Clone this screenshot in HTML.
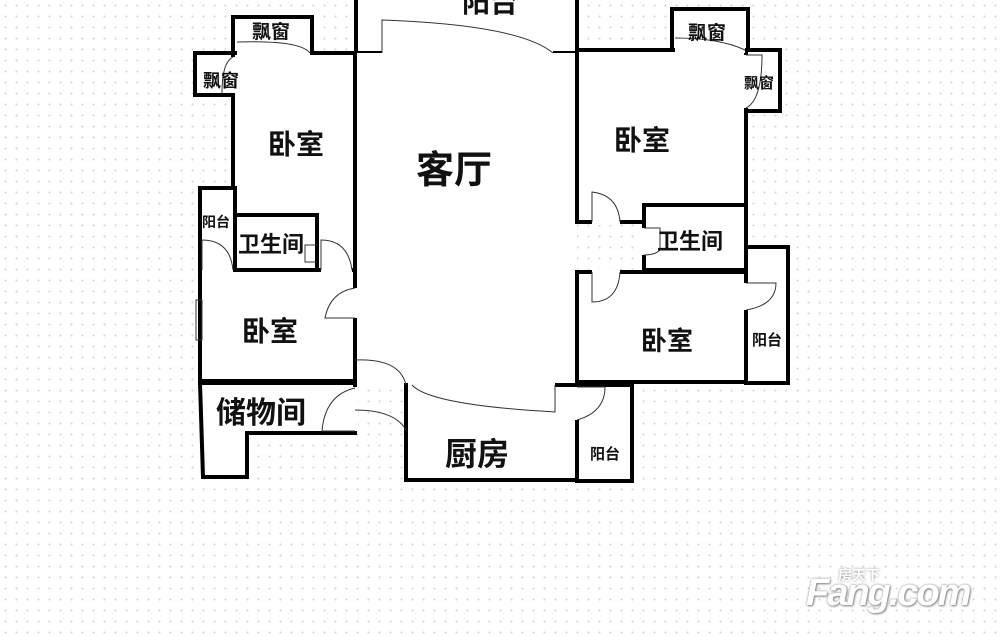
<!DOCTYPE html>
<html><head><meta charset="utf-8"><style>
html,body{margin:0;padding:0;background:#fff;}
body{width:1000px;height:637px;overflow:hidden;
background-image:radial-gradient(circle,#d4d4d4 0.8px,transparent 1.2px);background-size:11px 11px;}
svg{position:absolute;left:0;top:0;}
text{font-family:"Liberation Sans","Noto Sans CJK SC",sans-serif;font-weight:bold;fill:#111;}
.wm{position:absolute;left:806px;top:572px;font:italic bold 38px "Liberation Sans",sans-serif;color:#fff;text-shadow:0 0 2px #888,1px 1px 2px #888;letter-spacing:-2px;}
.wm2{position:absolute;left:838px;top:565px;font:bold 14px "Noto Sans CJK SC",sans-serif;color:#fff;text-shadow:0 0 2px #888;}
</style></head><body>
<svg width="1000" height="637" viewBox="0 0 1000 637">
<g fill="#fff" stroke="#000" stroke-width="4">
<rect x="356" y="-5" width="221" height="58"/>
<rect x="356" y="53" width="221" height="332" stroke="none"/>
<rect x="233" y="17" width="79" height="36"/>
<rect x="195" y="53" width="40" height="42"/>
<rect x="233" y="53" width="122" height="217"/>
<rect x="200" y="188" width="35" height="82"/>
<rect x="235" y="215" width="82" height="55"/>
<rect x="200" y="270" width="155" height="111"/>
<path d="M200 383 H355 V433 H247 V477 H203 Z"/>
<rect x="406" y="385" width="171" height="95"/>
<rect x="577" y="385" width="55" height="96"/>
<rect x="672" y="9" width="76" height="41"/>
<rect x="746" y="50" width="34" height="61"/>
<rect x="577" y="50" width="169" height="172"/>
<rect x="644" y="205" width="102" height="65"/>
<rect x="746" y="247" width="42" height="136"/>
<rect x="577" y="272" width="169" height="110"/>
</g>
<g stroke="#fff" stroke-width="6">
<line x1="382" y1="53" x2="553" y2="53"/>
<line x1="237" y1="53" x2="310" y2="53"/>
<line x1="233" y1="57" x2="233" y2="93"/>
<line x1="202" y1="270" x2="233" y2="270"/>
<line x1="321" y1="270" x2="352" y2="270"/>
<line x1="355" y1="288" x2="355" y2="318"/>
<line x1="355" y1="387" x2="355" y2="431"/>
<line x1="408" y1="385" x2="555" y2="385"/>
<line x1="577" y1="387" x2="577" y2="420"/>
<line x1="675" y1="50" x2="745" y2="50"/>
<line x1="746" y1="55" x2="746" y2="108"/>
<line x1="592" y1="222" x2="620" y2="222"/>
<line x1="644" y1="228" x2="644" y2="255"/>
<line x1="592" y1="272" x2="620" y2="272"/>
<line x1="746" y1="283" x2="746" y2="310"/>
</g>
<g fill="none" stroke="#333" stroke-width="1">
<path d="M382 53 V20 Q520 25 553 53"/>
<path d="M237 42 Q300 40 310 53"/>
<path d="M233 57 Q222 62 222 93"/>
<path d="M202 270 V240 Q230 240 233 270"/>
<path d="M321 270 V240 Q348 240 352 270"/>
<path d="M355 288 Q330 292 325 318 H355"/>
<path d="M355 360 Q400 358 406 385"/>
<path d="M412 385 Q430 405 555 412 V385"/>
<path d="M355 388 Q325 395 322 431 H355"/>
<path d="M355 410 Q395 410 406 430"/>
<path d="M577 387 H605 Q605 412 577 420"/>
<path d="M675 38 Q720 38 745 50"/>
<path d="M746 55 H762 Q762 100 746 108"/>
<path d="M592 222 V192 Q618 195 620 222"/>
<path d="M644 228 H660 V250 Q655 255 644 255"/>
<path d="M592 272 V302 Q618 302 620 272"/>
<path d="M746 283 H776 Q776 305 746 310"/>
<path d="M317 245 H305 V262 H317"/>
<rect x="196" y="300" width="6" height="40"/>
</g>
<text x="416" y="183" font-size="38">客厅</text>
<text x="268" y="154" font-size="28">卧室</text>
<text x="242" y="341" font-size="28">卧室</text>
<text x="614" y="150" font-size="28">卧室</text>
<text x="641" y="350" font-size="26">卧室</text>
<text x="445" y="465" font-size="32">厨房</text>
<text x="216" y="423" font-size="30">储物间</text>
<text x="462" y="12" font-size="28">阳台</text>
<text x="238" y="252" font-size="22">卫生间</text>
<text x="657" y="249" font-size="22">卫生间</text>
<text x="252" y="38" font-size="19">飘窗</text>
<text x="203" y="87" font-size="18">飘窗</text>
<text x="688" y="39" font-size="19">飘窗</text>
<text x="744" y="88" font-size="15">飘窗</text>
<text x="202" y="227" font-size="14">阳台</text>
<text x="752" y="345" font-size="15">阳台</text>
<text x="590" y="459" font-size="15">阳台</text>
</svg>
<div class="wm2">房天下</div>
<div class="wm">Fang.com</div>
</body></html>
